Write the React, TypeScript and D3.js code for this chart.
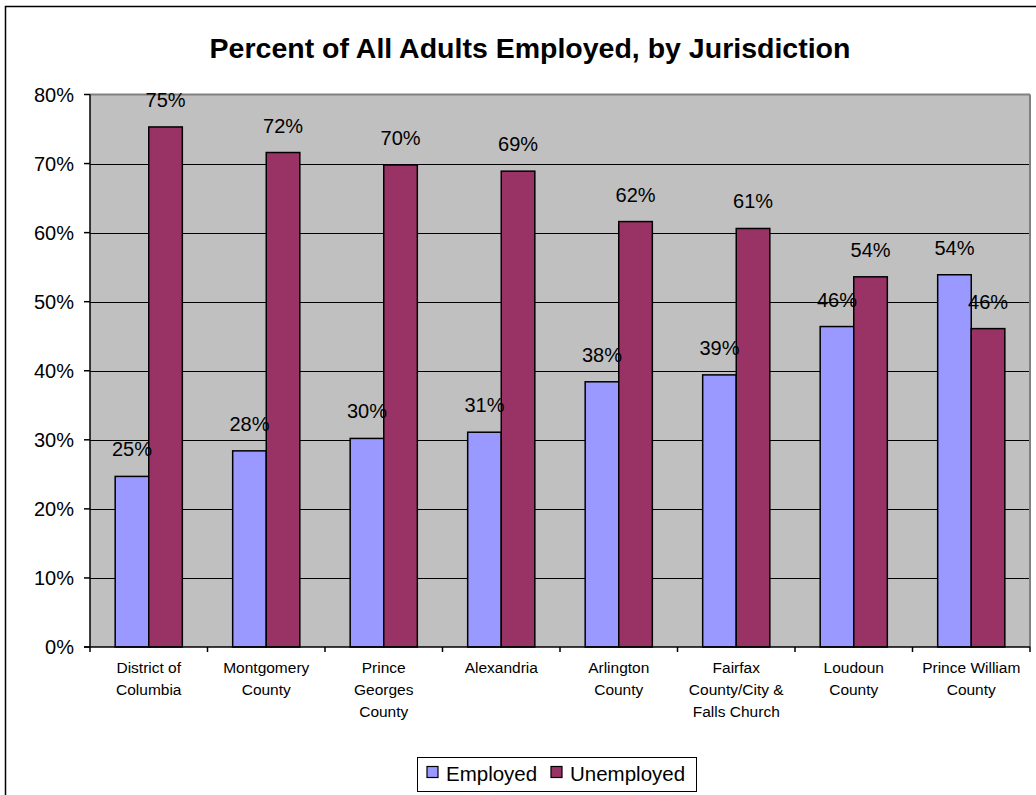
import React from "react";
import * as d3 from "d3";

const categories: string[][] = [
  ["District of", "Columbia"],
  ["Montgomery", "County"],
  ["Prince", "Georges", "County"],
  ["Alexandria"],
  ["Arlington", "County"],
  ["Fairfax", "County/City &", "Falls Church"],
  ["Loudoun", "County"],
  ["Prince William", "County"],
];
const employed = [24.7, 28.4, 30.2, 31.1, 38.4, 39.4, 46.4, 53.9];
const unemployed = [75.3, 71.6, 69.8, 68.9, 61.6, 60.6, 53.6, 46.1];
const seriesNames = ["Employed", "Unemployed"];
const seriesColors = ["#9999FF", "#993366"];
const yTicks = [0, 10, 20, 30, 40, 50, 60, 70, 80];
const title = "Percent of All Adults Employed, by Jurisdiction";

const FONT = "'Liberation Sans', Arial, Helvetica, sans-serif";

export default function App() {
  const W = 1036, H = 795;
  const left = 90, right = 1030, top = 94.5, bottom = 647;
  const keys = categories.map((c) => c.join(" "));
  const x0 = d3.scaleBand<string>().domain(keys).range([left, right])
    .paddingInner(1 - 2 / 3.5).paddingOuter((1 - 2 / 3.5) / 2);
  const x1 = d3.scaleBand<string>().domain(seriesNames).range([0, x0.bandwidth()]);
  const y = d3.scaleLinear().domain([0, 80]).range([bottom, top]);
  const step = x0.step();
  const gap = step - x0.bandwidth();
  const series = [employed, unemployed];

  return (
    <div style={{ position: "absolute", left: 0, top: 0 }}>
      <svg width={W} height={H} style={{ display: "block", fontFamily: FONT }}>
        <rect x={0} y={0} width={W} height={H} fill="#fff" />
        <rect x={5.5} y={6.5} width={1050} height={800} fill="#fff" stroke="#000" strokeWidth={1.5} />
        <text x={530} y={58} textAnchor="middle" fontSize={28.5} fontWeight="bold" fill="#000">{title}</text>
        <rect x={left} y={top} width={right - left} height={bottom - top} fill="#C0C0C0" />
        {yTicks.filter((t) => t > 0 && t < 80).map((t) => (
          <line key={t} x1={left} x2={right} y1={Math.round(y(t)) + 0.5} y2={Math.round(y(t)) + 0.5} stroke="#000" strokeWidth={1} />
        ))}
        <line x1={left} x2={right} y1={top} y2={top} stroke="#808080" strokeWidth={2} />
        <line x1={right} x2={right} y1={top} y2={bottom} stroke="#808080" strokeWidth={2} />
        {series.map((vals, si) =>
          vals.map((v, i) => {
            const x = (x0(keys[i]) as number) + (x1(seriesNames[si]) as number);
            return (
              <rect key={`${si}-${i}`} x={x} y={y(v)} width={x1.bandwidth()} height={bottom - y(v)}
                fill={seriesColors[si]} stroke="#000" strokeWidth={1.5} />
            );
          })
        )}
        {series.map((vals, si) =>
          vals.map((v, i) => {
            const x = (x0(keys[i]) as number) + (x1(seriesNames[si]) as number) + x1.bandwidth() / 2;
            return (
              <text key={`l${si}-${i}`} x={x} y={y(v) - 20} textAnchor="middle" fontSize={20} fill="#000">
                {`${Math.round(v)}%`}
              </text>
            );
          })
        )}
        <line x1={left} x2={left} y1={top} y2={bottom} stroke="#000" strokeWidth={1.5} />
        <line x1={left - 6} x2={right} y1={bottom} y2={bottom} stroke="#000" strokeWidth={1.5} />
        {yTicks.map((t) => (
          <g key={t}>
            <line x1={left - 6} x2={left} y1={y(t)} y2={y(t)} stroke="#000" strokeWidth={1.5} />
            <text x={74} y={y(t) + 7} textAnchor="end" fontSize={20} fill="#000">{`${t}%`}</text>
          </g>
        ))}
        {keys.map((k, i) => {
          const bx = (x0(k) as number) - gap / 2;
          return <line key={`t${i}`} x1={bx} x2={bx} y1={bottom} y2={bottom + 5} stroke="#000" strokeWidth={1.5} />;
        })}
        <line x1={right} x2={right} y1={bottom} y2={bottom + 5} stroke="#000" strokeWidth={1.5} />
        {categories.map((lines, i) => {
          const cx = (x0(keys[i]) as number) + x0.bandwidth() / 2;
          return (
            <text key={`c${i}`} textAnchor="middle" fontSize={15.5} fill="#000">
              {lines.map((ln, j) => (
                <tspan key={j} x={cx} y={673 + j * 22}>{ln}</tspan>
              ))}
            </text>
          );
        })}
        <g>
          <rect x={417.5} y={757.5} width={279} height={34} fill="#fff" stroke="#000" strokeWidth={1} />
          {seriesNames.map((s, i) => {
            const sx = i === 0 ? 427 : 551;
            return (
              <g key={s}>
                <rect x={sx} y={766.5} width={11} height={11} fill={seriesColors[i]} stroke="#000" strokeWidth={1.2} />
                <text x={sx + 19} y={781} fontSize={20.5} fill="#000">{s}</text>
              </g>
            );
          })}
        </g>
      </svg>
    </div>
  );
}
